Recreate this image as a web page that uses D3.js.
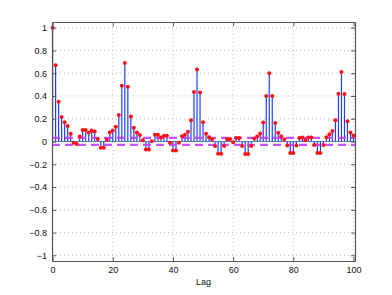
<!DOCTYPE html>
<html>
<head>
<meta charset="utf-8">
<script src="https://cdn.jsdelivr.net/npm/d3@7"></script>
<style>
  body { margin: 0; background: #fff; }
  svg text { font-family: "Liberation Sans", Arial, sans-serif; }
</style>
</head>
<body>
<svg id="chart" width="392" height="295"></svg>
<script>
// sample autocorrelation, lags 0..100
const lags = d3.range(0, 101);
const acf = [
  1.0, 0.67, 0.35, 0.216, 0.17, 0.137, 0.067, -0.01, -0.023, 0.044,
  0.10, 0.10, 0.076, 0.096, 0.087, 0.023, -0.055, -0.055, 0.015, 0.079,
  0.096, 0.13, 0.233, 0.49, 0.69, 0.48, 0.22, 0.12, 0.08, 0.058,
  0.01, -0.07, -0.07, 0.003, 0.06, 0.06, 0.035, 0.05, 0.05, -0.01,
  -0.08, -0.08, -0.01, 0.047, 0.06, 0.085, 0.187, 0.434, 0.633, 0.43,
  0.17, 0.067, 0.038, 0.02, -0.04, -0.108, -0.108, -0.04, 0.02, 0.023,
  -0.006, 0.03, 0.03, -0.04, -0.11, -0.11, -0.04, 0.026, 0.044, 0.07,
  0.166, 0.40, 0.60, 0.40, 0.163, 0.076, 0.047, 0.02, -0.035, -0.10,
  -0.10, -0.035, 0.03, 0.035, 0.012, 0.035, 0.035, -0.03, -0.10, -0.10,
  -0.03, 0.038, 0.064, 0.093, 0.187, 0.42, 0.61, 0.417, 0.178, 0.08,
  0.052
];
const bounds = [0.031, -0.029];
const xTicks = [0, 20, 40, 60, 80, 100];
const yTicks = [-1, -0.8, -0.6, -0.4, -0.2, 0, 0.2, 0.4, 0.6, 0.8, 1];

const margin = {left: 52, right: 37, top: 22, bottom: 34};
const W = 392, H = 295;
const svg = d3.select("#chart");

const x = d3.scaleLinear().domain([-0.2, 100.5]).range([margin.left, W - margin.right]);
const y = d3.scaleLinear().domain([-1.05, 1.05]).range([H - margin.bottom, margin.top]);

// grid
const grid = svg.append("g");
grid.selectAll(".gx").data(xTicks).enter().append("line")
    .attr("x1", d => x(d)).attr("x2", d => x(d))
    .attr("y1", y.range()[1]).attr("y2", y.range()[0])
    .attr("stroke", "#b0b0b0").attr("stroke-width", 0.8).attr("stroke-dasharray", "1,3");
grid.selectAll(".gy").data(yTicks).enter().append("line")
    .attr("y1", d => y(d)).attr("y2", d => y(d))
    .attr("x1", x.range()[0]).attr("x2", x.range()[1])
    .attr("stroke", "#b0b0b0").attr("stroke-width", 0.8).attr("stroke-dasharray", "1,3");

// zero baseline
svg.append("line")
    .attr("x1", x.range()[0]).attr("x2", x.range()[1])
    .attr("y1", y(0)).attr("y2", y(0))
    .attr("stroke", "#7080a0").attr("stroke-width", 1);

// stems
svg.append("g").selectAll("line").data(lags).enter().append("line")
    .attr("x1", d => x(d)).attr("x2", d => x(d))
    .attr("y1", y(0)).attr("y2", d => y(acf[d]))
    .attr("stroke", "#2040ff").attr("stroke-width", 1.2);

// confidence bounds
svg.append("g").selectAll("line").data(bounds).enter().append("line")
    .attr("x1", x.range()[0]).attr("x2", x.range()[1])
    .attr("y1", d => y(d)).attr("y2", d => y(d))
    .attr("stroke", "#c040ff").attr("stroke-width", 2.2).attr("stroke-dasharray", "8,5")
    .attr("stroke-opacity", 0.9);

// markers
svg.append("g").selectAll("circle").data(lags).enter().append("circle")
    .attr("cx", d => x(d)).attr("cy", d => y(acf[d]))
    .attr("r", 2).attr("fill", "#ff1010");

// axes box
const ax = svg.append("g")
    .attr("transform", `translate(0,${y.range()[0]})`)
    .call(d3.axisBottom(x).tickValues(xTicks).tickSize(-4).tickPadding(6).tickSizeOuter(0));
const ay = svg.append("g")
    .attr("transform", `translate(${x.range()[0]},0)`)
    .call(d3.axisLeft(y).tickValues(yTicks).tickSize(-4).tickPadding(5).tickSizeOuter(0)
        .tickFormat(d => d === 0 ? "0" : d3.format("")(d).replace("-", "\u2212")));
const ax2 = svg.append("g")
    .attr("transform", `translate(0,${y.range()[1]})`)
    .call(d3.axisTop(x).tickValues(xTicks).tickSize(-4).tickFormat("").tickSizeOuter(0));
const ay2 = svg.append("g")
    .attr("transform", `translate(${x.range()[1]},0)`)
    .call(d3.axisRight(y).tickValues(yTicks).tickSize(-4).tickFormat("").tickSizeOuter(0));

[ax, ay, ax2, ay2].forEach(g => {
    g.select(".domain").attr("stroke", "#555").attr("stroke-width", 1.2);
    g.selectAll(".tick line").attr("stroke", "#555");
    g.selectAll("text").attr("font-size", 9).attr("fill", "#111");
});

svg.append("text")
    .attr("x", (x.range()[0] + x.range()[1]) / 2).attr("y", H - 10)
    .attr("text-anchor", "middle").attr("font-size", 9).attr("fill", "#111")
    .text("Lag");
</script>
</body>
</html>
